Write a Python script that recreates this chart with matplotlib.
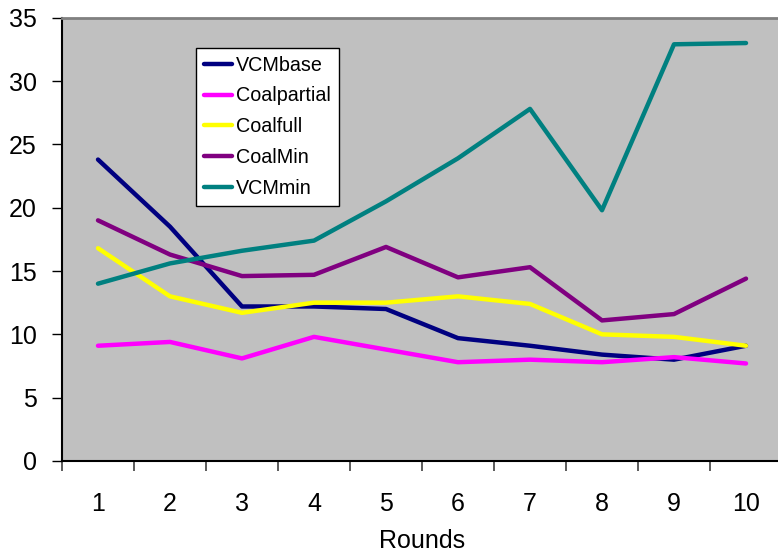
import matplotlib
matplotlib.use("Agg")
import matplotlib.pyplot as plt

plt.rcParams['font.family'] = ['Liberation Sans', 'DejaVu Sans']

rounds = [1, 2, 3, 4, 5, 6, 7, 8, 9, 10]
vcm_base = [23.8, 18.5, 12.2, 12.2, 12.0, 9.7, 9.1, 8.4, 8.0, 9.1]
coal_partial = [9.1, 9.4, 8.1, 9.8, 8.8, 7.8, 8.0, 7.8, 8.2, 7.7]
coal_full = [16.8, 13.0, 11.7, 12.5, 12.5, 13.0, 12.4, 10.0, 9.8, 9.1]
coal_min = [19.0, 16.3, 14.6, 14.7, 16.9, 14.5, 15.3, 11.1, 11.6, 14.4]
vcm_min = [14.0, 15.6, 16.6, 17.4, 20.5, 23.9, 27.8, 19.8, 32.9, 33.0]

series = [
    ("VCMbase", vcm_base, "#000080"),
    ("Coalpartial", coal_partial, "#FF00FF"),
    ("Coalfull", coal_full, "#FFFF00"),
    ("CoalMin", coal_min, "#800080"),
    ("VCMmin", vcm_min, "#008080"),
]

fig = plt.figure(figsize=(7.78, 5.56), dpi=100)
ax = fig.add_axes([62 / 778, 95 / 556, 720 / 778, 443.3 / 556])
ax.set_facecolor("#C0C0C0")

for name, vals, col in series:
    ax.plot(rounds, vals, color=col, lw=3.2, label=name, solid_capstyle="round")

ax.set_xlim(0.5, 10.5)
ax.set_ylim(0, 35)
ax.set_yticks(range(0, 36, 5))
ax.set_xticks(rounds)
ax.set_xticks([r + 0.5 for r in range(0, 11)], minor=True)
ax.tick_params(axis="x", which="major", length=0, pad=22, labelsize=18)
ax.tick_params(axis="x", which="minor", length=7, width=1.2, direction="out", color="#404040")
ax.tick_params(axis="y", length=7, width=1, direction="out", pad=11, labelsize=18)

for s in ["left", "bottom"]:
    ax.spines[s].set_color("black")
    ax.spines[s].set_linewidth(1.5)
ax.spines["top"].set_color("#808080")
ax.spines["top"].set_linewidth(2)
ax.spines["right"].set_visible(False)

ax.set_xlabel("Rounds", fontsize=18, labelpad=10)

leg = ax.legend(loc="upper left", bbox_to_anchor=(0.1857, 0.9323), borderaxespad=0,
                fontsize=14.2, frameon=True, fancybox=False, handlelength=1.45,
                handletextpad=0.2, labelspacing=0.6, borderpad=0.4)
leg.get_frame().set_edgecolor("black")
leg.get_frame().set_linewidth(1)
leg.get_frame().set_facecolor("white")
leg.get_frame().set_alpha(1)

fig.savefig("out.png", dpi=100)
